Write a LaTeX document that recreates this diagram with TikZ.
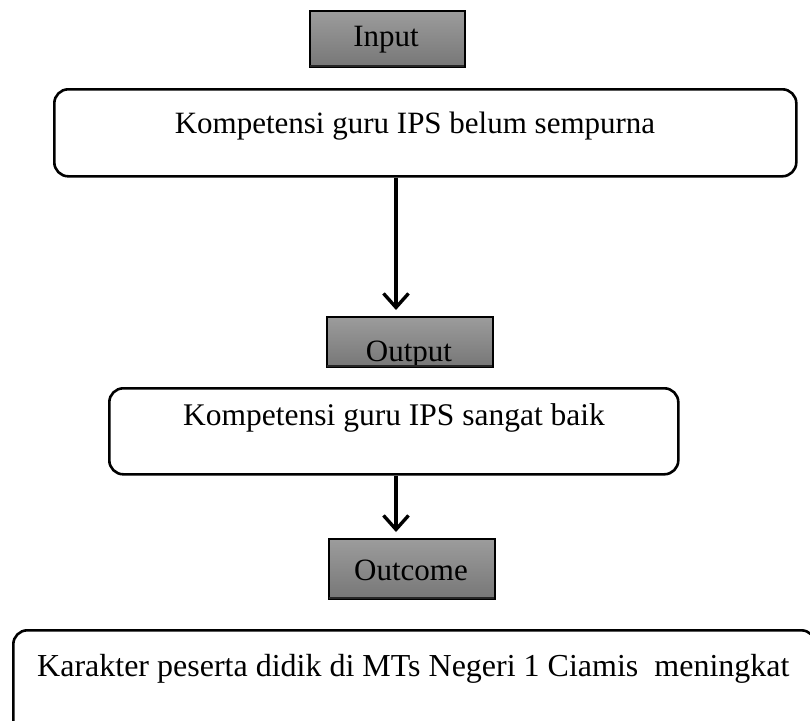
\documentclass[tikz,border=0pt]{standalone}
\usepackage{fontspec}
\setmainfont{Liberation Serif}
\usetikzlibrary{arrows.meta,shadows}
\definecolor{gtop}{HTML}{9C9C9C}
\definecolor{gbot}{HTML}{777777}
\tikzset{
  graybox/.style={draw=black, line width=1.5pt, top color=gtop, bottom color=gbot, inner sep=0pt, anchor=north west},
  roundbox/.style={draw=black, line width=2.6pt, rounded corners=14pt, inner sep=0pt, anchor=north west, fill=white},
  lbl/.style={font=\fontsize{31}{34}\selectfont, inner sep=0pt},
  flow/.style={line width=3.4pt, -{Straight Barb[length=14pt,width=25pt,line width=3.4pt]}}
}
\begin{document}
\begin{tikzpicture}[x=1pt,y=-1pt]
\useasboundingbox (0,0) rectangle (810,720);
\clip (0,0) rectangle (810,720);
% Input
\node[graybox, minimum width=155pt, minimum height=56pt] (in) at (309,10) {};
\draw[black!85, line width=2.4pt] (310,66) -- (464,66);
\node[lbl] (intxt) at (386,40) {Input};
% box 1
\node[roundbox, minimum width=742pt, minimum height=87pt] (b1) at (53,88) {};
\node[lbl] (b1txt) at (415,126) {Kompetensi guru IPS belum sempurna};
% Output
\node[graybox, minimum width=166pt, minimum height=50pt] (out) at (326,316) {};
\begin{scope}
\clip (326,316) rectangle (492,364);
\node[lbl, anchor=base] (outtxt) at (409,361) {Output};
\end{scope}
\draw[black!85, line width=2.4pt] (327,366) -- (492,366);
% box 2
\node[roundbox, minimum width=569pt, minimum height=86pt] (b2) at (108,387) {};
\node[lbl, font=\fontsize{31.5}{34}\selectfont] (b2txt) at (394,418) {Kompetensi guru IPS sangat baik};
% Outcome
\node[graybox, minimum width=166pt, minimum height=60pt] (oc) at (328,538) {};
\draw[black!85, line width=2.4pt] (329,598) -- (494,598);
\node[lbl] (octxt) at (411,570) {Outcome};
% box 3
\node[roundbox, minimum width=802pt, minimum height=120pt] (b3) at (12,629) {};
\node[lbl, anchor=west, font=\fontsize{32}{34}\selectfont] (b3txt) at (37,669) {Karakter peserta didik di MTs Negeri 1 Ciamis\ \ meningkat};
% arrows
\coordinate (a1) at (396,175);
\coordinate (a1e) at (396,310);
\coordinate (a2) at (396,473);
\coordinate (a2e) at (396,532);
\draw[flow] (b1.south -| a1) -- (a1e);
\draw[flow] (b2.south -| a2) -- (a2e);
\end{tikzpicture}
\end{document}
